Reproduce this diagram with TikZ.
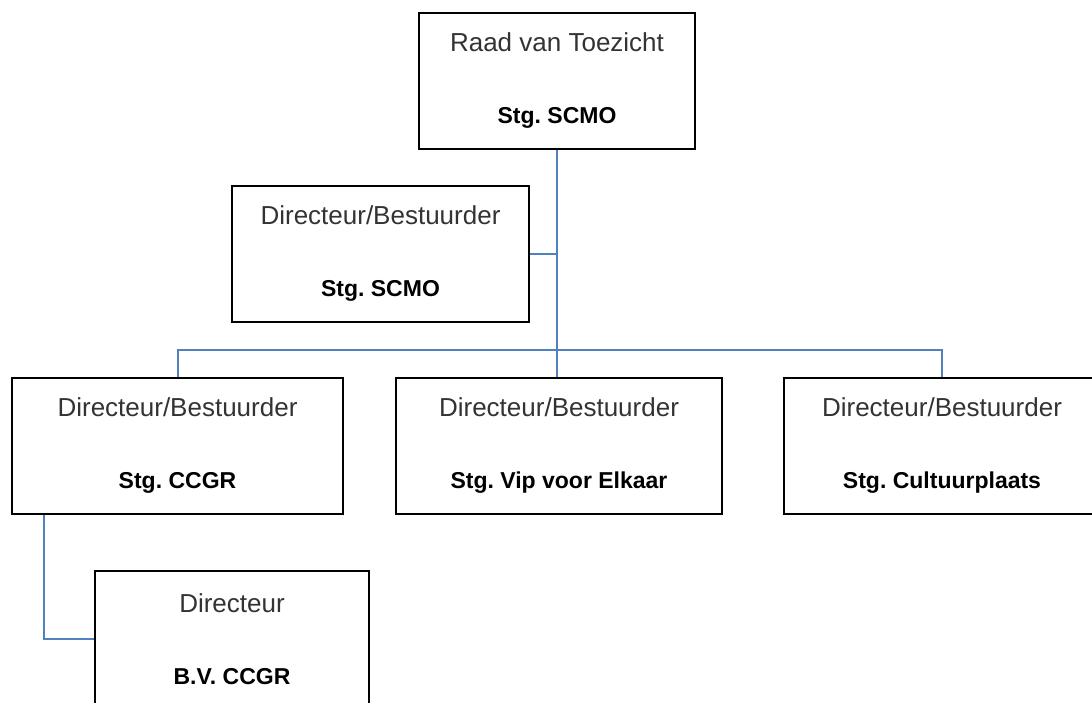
\documentclass[tikz,border=0pt]{standalone}
\usepackage{fontspec}
\setmainfont{Liberation Sans}
\usepackage{tikz}
\frenchspacing

\definecolor{linkblue}{RGB}{79,129,189}
\newcommand{\orgname}[1]{{\fontsize{23}{28}\selectfont\bfseries\color{black}#1}}

\begin{document}
\begin{tikzpicture}[x=1pt,y=-1pt,every text node part/.style={align=center},
  orgbox/.style={draw=black, line width=2pt, inner sep=0pt, minimum height=136pt, text=black!80, font=\fontsize{26}{30}\selectfont},
  link/.style={draw=linkblue, line width=2pt}]
\useasboundingbox (0,0) rectangle (1092,702);
\node [orgbox, minimum width=276pt] (rvt) at (557,81) {Raad van Toezicht\\[42pt]\orgname{Stg. SCMO}};
\node [orgbox, minimum width=297pt] (dir) at (380.5,253.5) {Directeur/Bestuurder\\[42pt]\orgname{Stg. SCMO}};
\node [orgbox, minimum width=331pt] (ccgr) at (177.5,446) {Directeur/Bestuurder\\[42pt]\orgname{Stg. CCGR}};
\node [orgbox, minimum width=326pt] (vip) at (559,446) {Directeur/Bestuurder\\[42pt]\orgname{Stg. Vip voor Elkaar}};
\node [orgbox, minimum width=316pt] (cult) at (942,446) {Directeur/Bestuurder\\[42pt]\orgname{Stg. Cultuurplaats}};
\node [orgbox, minimum width=274pt] (bv) at (232,639) {Directeur\\[42pt]\orgname{B.V. CCGR}};
\coordinate (bar) at (557,350);
\draw [link] (rvt.south) -- (rvt.south |- vip.north);
\draw [link] (dir.east) -- (dir.east -| rvt.south);
\draw [link] (ccgr.north) |- (bar) -| (cult.north);
\draw [link] ([xshift=33pt]ccgr.south west) |- (bv.west);
\end{tikzpicture}
\end{document}
